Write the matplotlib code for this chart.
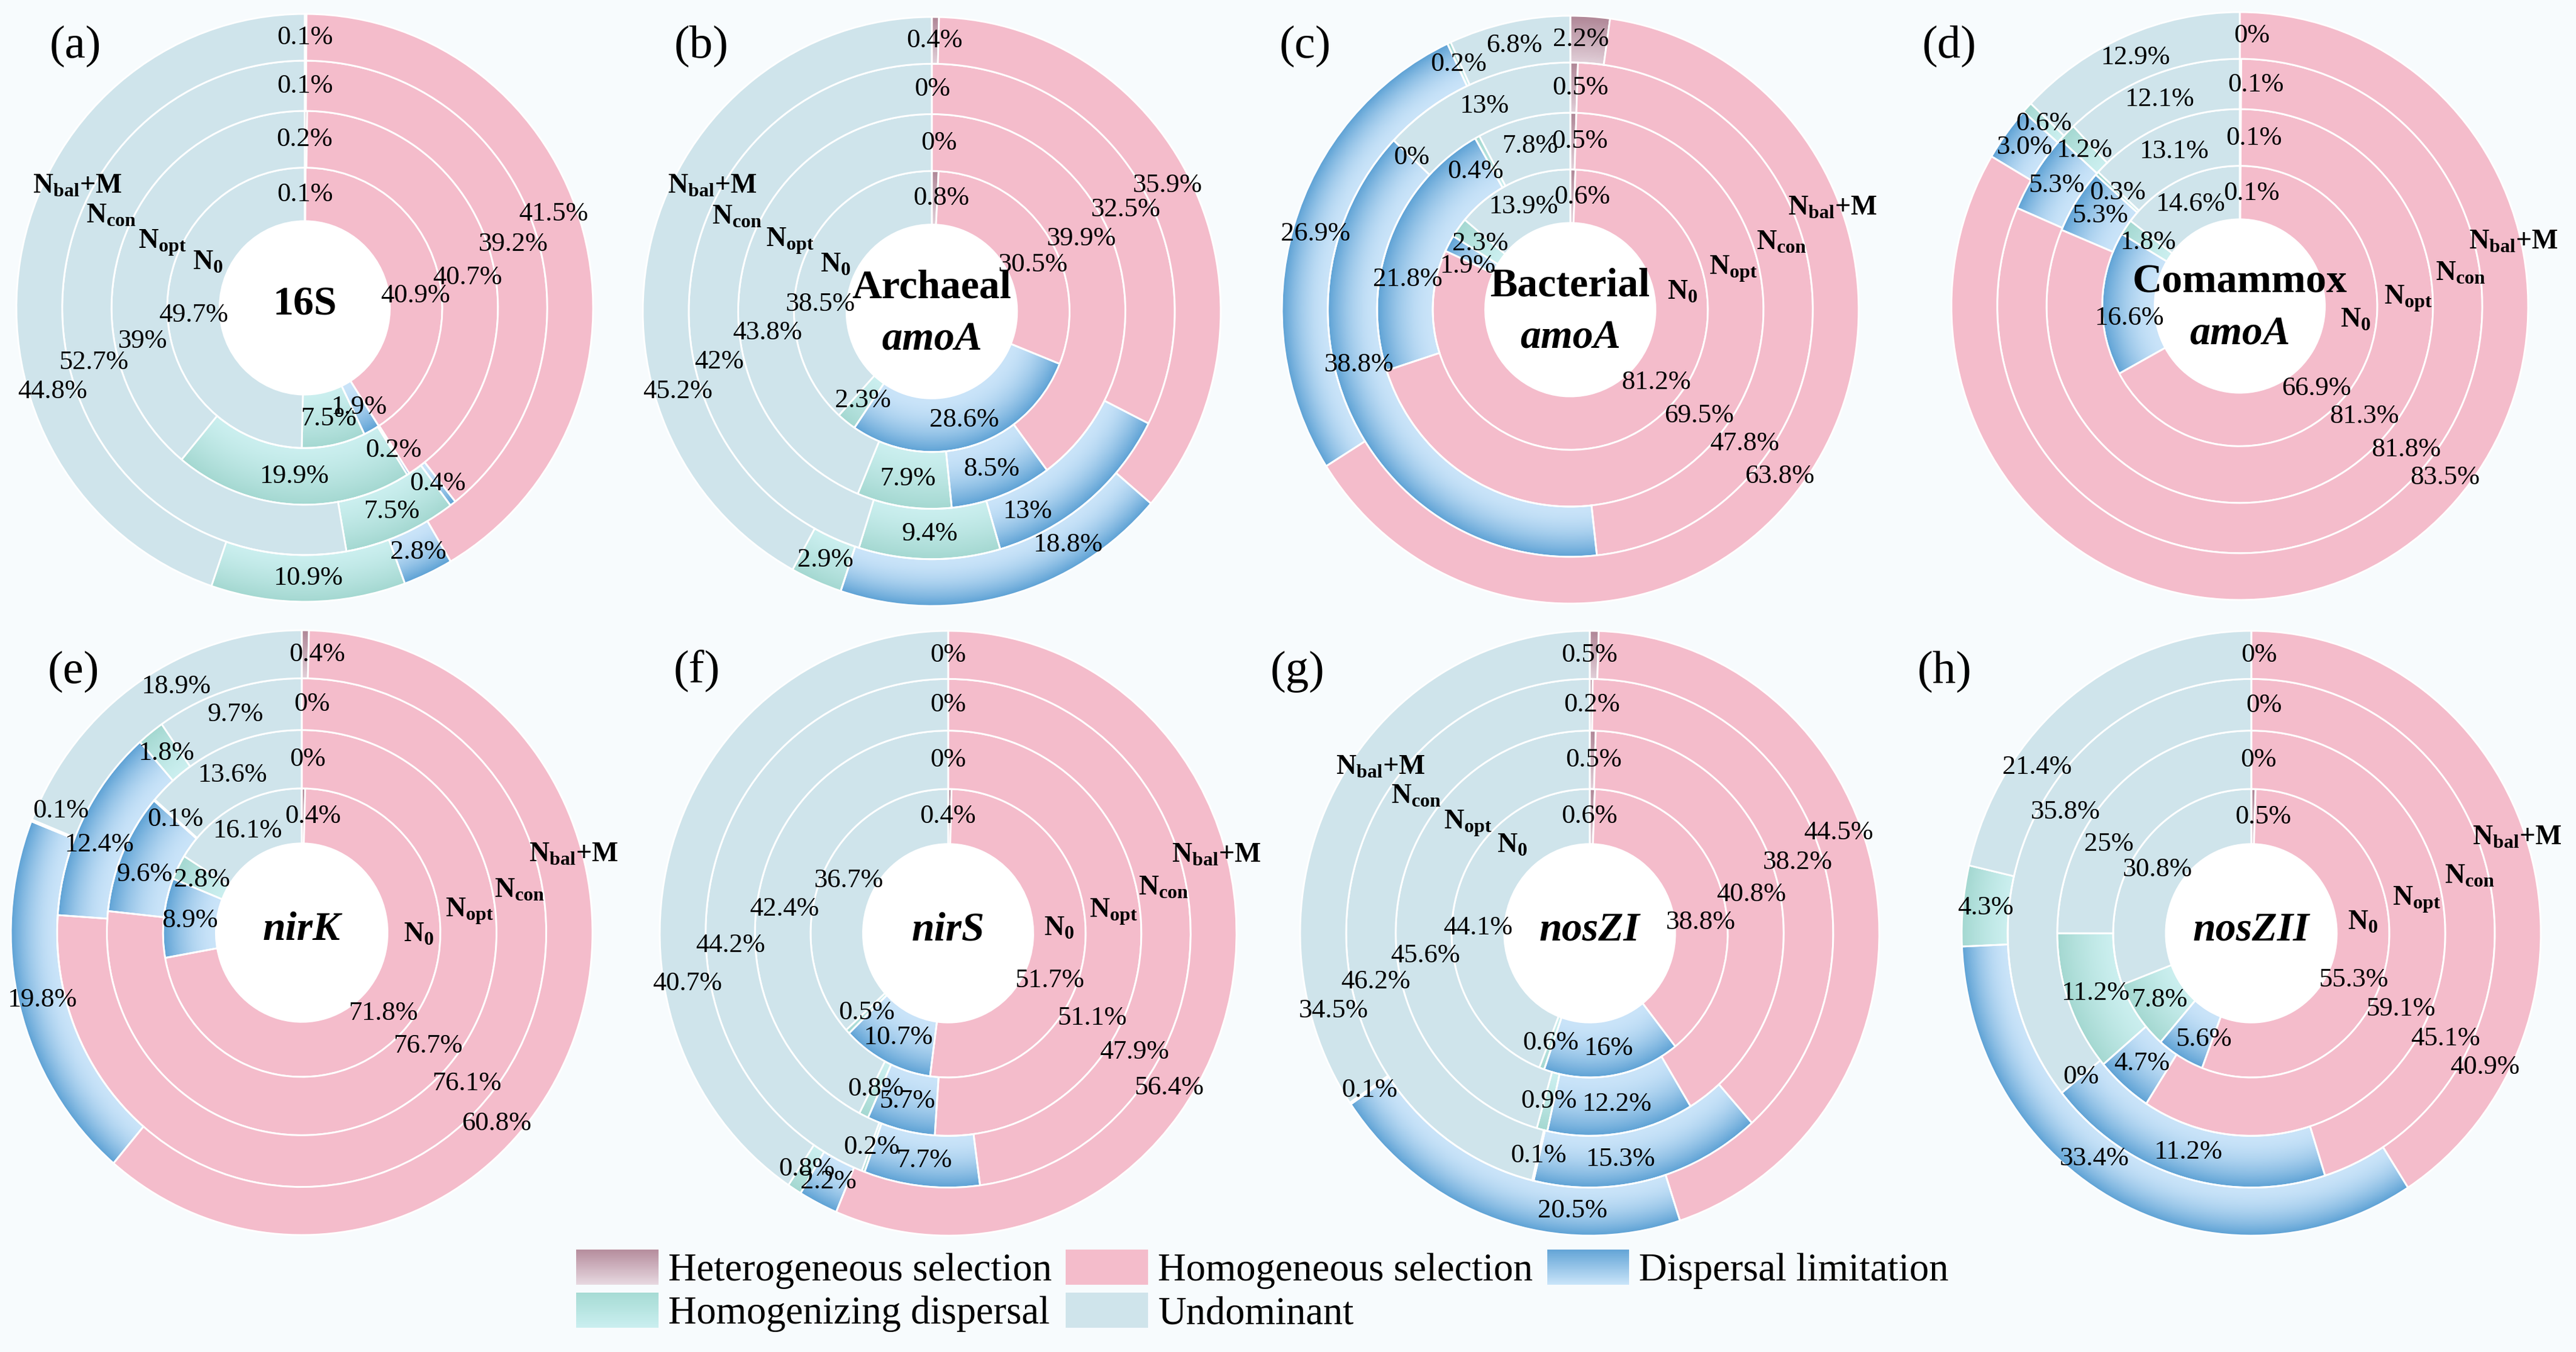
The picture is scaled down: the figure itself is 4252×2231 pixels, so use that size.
import numpy as np
import matplotlib
matplotlib.use("Agg")
import matplotlib.pyplot as plt
from matplotlib.patches import Patch, Rectangle, Ellipse
from matplotlib.legend_handler import HandlerBase
from matplotlib.colors import to_rgb

plt.rcParams['font.family'] = ['Liberation Serif', 'DejaVu Serif']
plt.rcParams['mathtext.fontset'] = 'custom'
plt.rcParams['mathtext.rm'] = 'Liberation Serif'
plt.rcParams['mathtext.bf'] = 'Liberation Serif:bold'
plt.rcParams['mathtext.it'] = 'Liberation Serif:italic'

# ---------------- data ----------------
CATEGORIES = ["Heterogeneous selection", "Homogeneous selection", "Dispersal limitation",
              "Homogenizing dispersal", "Undominant"]
RING_NAMES = [r'$\mathbf{N_0}$', r'$\mathbf{N_{opt}}$', r'$\mathbf{N_{con}}$', r'$\mathbf{N_{bal}}$+M']
PANELS = ['a', 'b', 'c', 'd', 'e', 'f', 'g', 'h']
TITLES = {'a': ('16S', None), 'b': ('Archaeal', 'amoA'), 'c': ('Bacterial', 'amoA'),
          'd': ('Comammox', 'amoA'), 'e': (None, 'nirK'), 'f': (None, 'nirS'),
          'g': (None, 'nosZI'), 'h': (None, 'nosZII')}

# rings: N0, Nopt, Ncon, Nbal+M ; columns follow CATEGORIES
vals_16S = [[0.1, 40.9, 1.9, 7.5, 49.7],
            [0.2, 40.7, 0.2, 19.9, 39.0],
            [0.1, 39.2, 0.4, 7.5, 52.7],
            [0.1, 41.5, 2.8, 10.9, 44.8]]
vals_AOA = [[0.8, 30.5, 28.6, 2.3, 38.5],
            [0.0, 39.9, 8.5, 7.9, 43.8],
            [0.0, 32.5, 13.0, 9.4, 45.2],
            [0.4, 35.9, 18.8, 2.9, 42.0]]
vals_AOB = [[0.6, 81.2, 1.9, 2.3, 13.9],
            [0.5, 69.5, 21.8, 0.4, 7.8],
            [0.5, 47.8, 38.8, 0.0, 13.0],
            [2.2, 63.8, 26.9, 0.2, 6.8]]
vals_COM = [[0.1, 66.9, 16.6, 1.8, 14.6],
            [0.1, 81.3, 5.3, 0.3, 13.1],
            [0.1, 81.8, 5.3, 1.2, 12.1],
            [0.0, 83.5, 3.0, 0.6, 12.9]]
vals_nirK = [[0.4, 71.8, 8.9, 2.8, 16.1],
             [0.0, 76.7, 9.6, 0.1, 13.6],
             [0.0, 76.1, 12.4, 1.8, 9.7],
             [0.4, 60.8, 19.8, 0.1, 18.9]]
vals_nirS = [[0.4, 51.7, 10.7, 0.5, 36.7],
             [0.0, 51.1, 5.7, 0.8, 42.4],
             [0.0, 47.9, 7.7, 0.2, 44.2],
             [0.0, 56.4, 2.2, 0.8, 40.7]]
vals_nosZI = [[0.6, 38.8, 16.0, 0.6, 44.1],
              [0.5, 40.8, 12.2, 0.9, 45.6],
              [0.2, 38.2, 15.3, 0.1, 46.2],
              [0.5, 44.5, 20.5, 0.1, 34.5]]
vals_nosZII = [[0.5, 55.3, 5.6, 7.8, 30.8],
               [0.0, 59.1, 4.7, 11.2, 25.0],
               [0.0, 45.1, 19.1, 0.0, 35.8],
               [0.0, 40.9, 33.4, 4.3, 21.4]]
DATA = {'a': vals_16S, 'b': vals_AOA, 'c': vals_AOB, 'd': vals_COM,
        'e': vals_nirK, 'f': vals_nirS, 'g': vals_nosZI, 'h': vals_nosZII}
# printed label text where it differs from the drawn share
LABEL_TEXT = {('b', 2, 4): '42%', ('b', 3, 4): '45.2%', ('h', 2, 2): '11.2%', ('d', 3, 2): '3.0%'}

# ---------------- style / layout ----------------
W, H, DPI = 4252, 2231, 300
BG = '#f7fbfd'
FLAT = ['#c9a6b4', '#f4bccb', '#9cc8ec', '#bde6e4', '#cfe4eb']
GRAD = {0: ('#e2d0d9', '#b08797', 1.0),
        2: ('#cae4f9', '#5e a2d5'.replace(' ', ''), 1.8),
        3: ('#cbefef', '#a4d8d1', 1.3)}
LEG_GRAD = {0: ('#b58c9c', '#e7d8e0'), 2: ('#62a4d6', '#c9e4f9'), 3: ('#a6dbd4', '#caeff0')}
RADII = [0.295, 0.477, 0.670, 0.841, 1.0]

# pixel centre and half sizes of each donut
BOX = {'a': (503, 508, 476, 485), 'b': (1538, 514, 477, 486), 'c': (2592, 511, 476, 485),
       'd': (3697, 505, 476, 485), 'e': (498, 1539, 480, 499), 'f': (1565, 1540, 476, 499),
       'g': (2624, 1540, 478, 499), 'h': (3716, 1540, 478, 499)}
LETTER_POS = {'a': (124, 76), 'b': (1158, 76), 'c': (2154, 76), 'd': (3217, 76),
              'e': (121, 1108), 'f': (1150, 1108), 'g': (2142, 1108), 'h': (3210, 1108)}
NPOS = {'a': [(-0.336, 0.154), (-0.493, 0.221), (-0.671, 0.312), (-0.789, 0.414)],
        'b': [(-0.332, 0.158), (-0.491, 0.238), (-0.674, 0.319), (-0.759, 0.424)],
        'c': [(0.39, 0.059), (0.566, 0.138), (0.732, 0.227), (0.91, 0.345)],
        'd': [(0.402, -0.049), (0.584, 0.025), (0.765, 0.109), (0.95, 0.217)],
        'e': [(0.403, -0.007), (0.577, 0.071), (0.75, 0.138), (0.935, 0.258)],
        'f': [(0.384, 0.014), (0.573, 0.071), (0.746, 0.149), (0.93, 0.258)],
        'g': [(-0.267, 0.289), (-0.42, 0.364), (-0.6, 0.452), (-0.723, 0.547)],
        'h': [(0.386, 0.034), (0.570, 0.111), (0.755, 0.186), (0.918, 0.315)]}
# label angles (deg clockwise from 12 o'clock); None -> middle of wedge
HET_ANG = {'a': [0, 0, 0, 0], 'b': [4.9, 2.4, 0.2, 0.6], 'c': [6, 3.3, 2.6, 2.3],
           'd': [6, 4.9, 4.2, 2.6], 'e': [5.8, 2, 2.6, 3.3], 'f': [0, 0, 0, 0],
           'g': [0, 1.3, 0.5, 0], 'h': [6, 2.4, 3.4, 1.7]}
HOM_ANG = {'a': [84, 79.7, 73.4, 69.7], 'b': [65.7, 64.6, 62.7, 62.3],
           'c': [129.7, 129, 127, 128], 'd': [136.4, 131, 130.3, 129.4],
           'e': [133.7, 130.7, 131.4, 133.3], 'f': [114, 119.4, 121.3, 123.7],
           'g': [84.5, 77, 71.9, 68.8], 'h': [113.5, 116, 117.5, 118.7]}
UND_ANG = {'a': [266.4, 258.5, 255.8, 252], 'b': [273.7, 262.7, 257, 252.9],
           'c': [None] * 4, 'd': [None] * 4, 'e': [None, None, None, 332],
           'f': [297, 278, 267, 259.6], 'g': [272.7, 262.5, 257.8, 253.8],
           'h': [302.9, 301, 302, 306.6]}
EXTRA_ANG = {'b': {(2, 2): 154, (3, 2): 149.3},
             'c': {(0, 2): 292.5, (1, 2): 280.4, (2, 2): 255.6, (1, 3): 325},
             'd': {(0, 2): 264},
             'e': {(1, 2): 289.5, (2, 2): 292.6, (3, 3): 296},
             'g': {(2, 2): 171.9, (3, 2): 183.7},
             'h': {(0, 2): 205, (3, 2): 216}}

PCT_FS = 10.7
TITLE_FS = 16.3
N_FS = 11
LETTER_FS = 18.5
LEG_FS = 15.5

# gradient grid
GN = 500
g = np.linspace(-1, 1, GN)
GX, GY = np.meshgrid(g, g)
GR = np.hypot(GX, GY)


def grad_img(r_in, r_out, c_in, c_out, gamma):
    t = np.clip((GR - r_in) / (r_out - r_in), 0, 1) ** gamma
    a = np.array(to_rgb(c_in))
    b = np.array(to_rgb(c_out))
    return a[None, None, :] * (1 - t[..., None]) + b[None, None, :] * t[..., None]


fig = plt.figure(figsize=(W / DPI, H / DPI), dpi=DPI, facecolor=BG)

for p in PANELS:
    cx, cy, hx, hy = BOX[p]
    ax = fig.add_axes([(cx - hx) / W, 1 - (cy + hy) / H, 2 * hx / W, 2 * hy / H])
    ax.set_facecolor('none')
    ax.add_patch(Ellipse((0, 0), 2 * RADII[0], 2 * RADII[0], facecolor='white',
                         edgecolor='none', zorder=0))
    rings = DATA[p]
    for k, vals in enumerate(rings):
        r_in, r_out = RADII[k], RADII[k + 1]
        wedges, _ = ax.pie(vals, radius=r_out, startangle=90, counterclock=False,
                           colors=FLAT,
                           wedgeprops=dict(width=r_out - r_in, edgecolor='white',
                                           linewidth=0.7))
        for ci, w in enumerate(wedges):
            if ci in GRAD and vals[ci] > 0:
                c_in, c_out, gam = GRAD[ci]
                w.set_facecolor('none')
                im = ax.imshow(grad_img(r_in, r_out, c_in, c_out, gam),
                               extent=(-1, 1, -1, 1), origin='lower', aspect='auto',
                               interpolation='bilinear', zorder=0.5)
                im.set_clip_path(w)
        # labels
        tot = float(np.sum(vals))
        cum = np.cumsum(vals) / tot * 360.0
        mids = cum - np.array(vals) / tot * 180.0
        r_mid = (r_in + r_out) / 2
        for ci, v in enumerate(vals):
            ang = mids[ci]
            if ci == 0:
                ang = HET_ANG[p][k]
            elif ci == 1:
                ang = HOM_ANG[p][k]
            elif ci == 4 and UND_ANG[p][k] is not None:
                ang = UND_ANG[p][k]
            if (k, ci) in EXTRA_ANG.get(p, {}):
                ang = EXTRA_ANG[p][(k, ci)]
            txt = LABEL_TEXT.get((p, k, ci), f"{v:g}%")
            th = np.deg2rad(ang)
            ax.text(r_mid * np.sin(th), r_mid * np.cos(th), txt, ha='center', va='center',
                    fontsize=PCT_FS, zorder=6)
    # ring names
    for k in range(4):
        x, y = NPOS[p][k]
        ax.text(x, y, RING_NAMES[k], ha='center', va='center', fontsize=N_FS,
                fontweight='bold', zorder=7)
    # centre title
    t1, t2 = TITLES[p]
    if t1 is not None and t2 is not None:
        ax.text(0, 0.08, t1, ha='center', va='center', fontsize=TITLE_FS, fontweight='bold', zorder=7)
        ax.text(0, -0.095, t2, ha='center', va='center', fontsize=TITLE_FS, fontweight='bold',
                fontstyle='italic', zorder=7)
    elif t1 is not None:
        ax.text(0, 0.01, t1, ha='center', va='center', fontsize=TITLE_FS, fontweight='bold', zorder=7)
    else:
        ax.text(0, 0.01, t2, ha='center', va='center', fontsize=TITLE_FS, fontweight='bold',
                fontstyle='italic', zorder=7)
    ax.set_aspect('auto')
    ax.set_xlim(-1, 1)
    ax.set_ylim(-1, 1)
    ax.axis('off')
    lx, ly = LETTER_POS[p]
    fig.text(lx / W, 1 - ly / H, f"({p})", ha='center', va='center', fontsize=LETTER_FS)


class GradHandler(HandlerBase):
    def __init__(self, c_top, c_bot, n=40):
        super().__init__()
        self.c_top = np.array(to_rgb(c_top))
        self.c_bot = np.array(to_rgb(c_bot))
        self.n = n

    def create_artists(self, legend, orig_handle, xdescent, ydescent, width, height,
                       fontsize, trans):
        arts = []
        for i in range(self.n):
            f = (i + 0.5) / self.n
            col = self.c_bot * (1 - f) + self.c_top * f
            r = Rectangle((-xdescent, -ydescent + height * i / self.n), width,
                          height / self.n * 1.1, facecolor=col, edgecolor='none',
                          linewidth=0, transform=trans)
            arts.append(r)
        return arts


handles = [Patch(facecolor=FLAT[i], edgecolor='none', label=CATEGORIES[i]) for i in range(5)]
hmap = {handles[i]: GradHandler(*LEG_GRAD[i]) for i in LEG_GRAD}
order = [0, 3, 1, 4, 2]
fig.legend([handles[i] for i in order], [CATEGORIES[i] for i in order], loc='center',
           bbox_to_anchor=(2084 / W, 1 - 2130 / H), ncol=3, frameon=False, fontsize=LEG_FS,
           handlelength=2.1, handleheight=1.0, handletextpad=0.25, columnspacing=0.36,
           labelspacing=0.1, borderpad=0, handler_map=hmap)

fig.savefig('out.png', dpi=DPI, facecolor=BG)
